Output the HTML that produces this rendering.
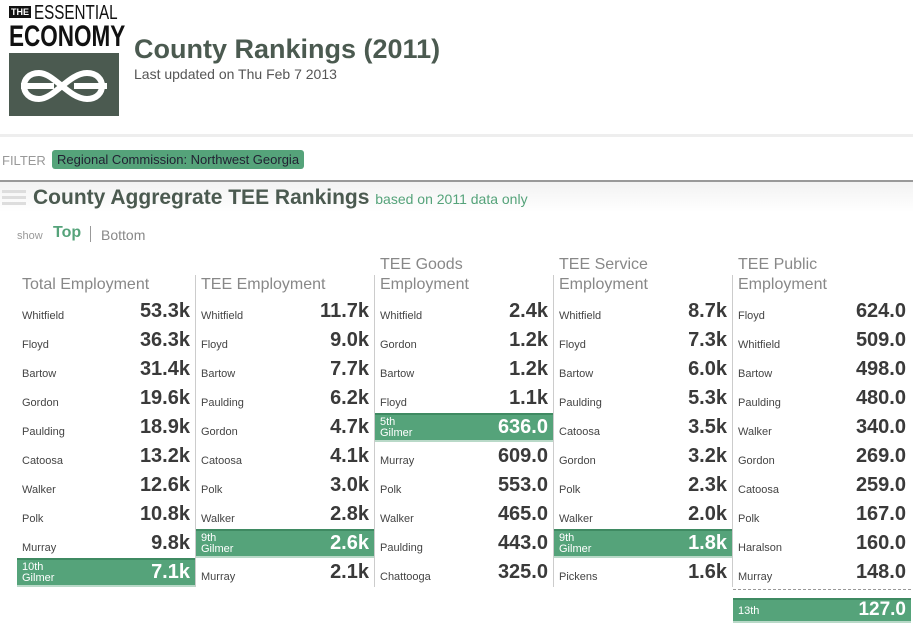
<!DOCTYPE html>
<html><head><meta charset="utf-8"><style>
body{margin:0;width:913px;height:634px;overflow:hidden;background:#fff;font-family:"Liberation Sans",sans-serif;position:relative}
.abs{position:absolute}
.col{position:absolute;top:255px;width:179px}
.hdr{position:absolute;left:5px;bottom:calc(100% - 40px);font-size:16px;color:#888;line-height:20px;width:170px}
.row{position:absolute;left:0;width:178px;height:29px}
.nm{position:absolute;left:5px;top:13px;font-size:11px;color:#444}
.val{position:absolute;right:5px;top:3px;font-size:20px;font-weight:bold;color:#3a3a3a}
.hl{background:#55a37a;border-top:2px solid #3f8a62;border-bottom:2px solid #b9d9c8;box-sizing:border-box}
.hl .nm{color:#fff;top:2px;line-height:11px;font-size:11px}
.hl .val{color:#fff;top:1px}
</style></head><body>
<div class="abs" style="left:9px;top:4px;width:110px;height:112px">
 <div class="abs" style="left:0;top:2px;background:#111;color:#fff;font-size:9px;font-weight:bold;padding:1px 2px">THE</div>
 <div class="abs" style="left:25px;top:-2px;font-size:20px;color:#111;transform:scaleX(0.76);transform-origin:left;white-space:nowrap">ESSENTIAL</div>
 <div class="abs" style="left:0;top:16px;font-size:30px;font-weight:bold;color:#111;transform:scaleX(0.75);transform-origin:left;white-space:nowrap">ECONOMY</div>
 <div class="abs" style="left:0;top:49px;width:110px;height:63px;background:#4b5a50">
  <svg width="110" height="63"><path d="M30 20 C10 20 10 46 30 46 C45 46 60 20 78 20 C98 20 98 46 78 46 C60 46 45 20 30 20 M12 33 H45 M65 33 H98" stroke="#fff" stroke-width="6" fill="none"/></svg>
 </div>
</div>
<div class="abs" style="left:134px;top:34px;font-size:27px;font-weight:bold;color:#4b5a50">County Rankings (2011)</div>
<div class="abs" style="left:134px;top:66px;font-size:14px;color:#555">Last updated on Thu Feb 7 2013</div>
<div class="abs" style="left:0;top:134px;width:913px;height:3px;background:#eee"></div>
<div class="abs" style="left:2px;top:153px;font-size:13px;color:#999">FILTER</div>
<div class="abs" style="left:52px;top:150px;padding:2px 5px;background:#55a37a;border-radius:3px;font-size:13px;color:#223">Regional Commission: Northwest Georgia</div>
<div class="abs" style="left:0;top:180px;width:913px;height:2px;background:#999"></div>
<div class="abs" style="left:0;top:182px;width:913px;height:30px;background:linear-gradient(#f2f2f2,#fff)"></div>
<div class="abs" style="left:2px;top:190px;width:24px;height:16px;background:repeating-linear-gradient(#ddd 0 3px,transparent 3px 6px)"></div>
<div class="abs" style="left:33px;top:186px;font-size:21px;font-weight:bold;color:#4b5a50">County Aggregrate TEE Rankings <span style="font-size:14px;font-weight:normal;color:#55a37a">based on 2011 data only</span></div>
<div class="abs" style="left:17px;top:230px;font-size:11px;color:#999">show</div>
<div class="abs" style="left:53px;top:224px;font-size:16px;font-weight:bold;color:#55a37a">Top</div>
<div class="abs" style="left:90px;top:226px;width:1px;height:16px;background:#999"></div>
<div class="abs" style="left:101px;top:227px;font-size:14px;color:#888">Bottom</div>
<div id="cols"></div>
<script>
const headers=["Total Employment","TEE Employment","TEE Goods<br>Employment","TEE Service<br>Employment","TEE Public<br>Employment"];
const names1=["Whitfield","Floyd","Bartow","Gordon","Paulding","Catoosa","Walker","Polk","Murray","Gilmer"];
const vals1=["53.3k","36.3k","31.4k","19.6k","18.9k","13.2k","12.6k","10.8k","9.8k","7.1k"];
const names2=["Whitfield","Floyd","Bartow","Paulding","Gordon","Catoosa","Polk","Walker","Gilmer","Murray"];
const vals2=["11.7k","9.0k","7.7k","6.2k","4.7k","4.1k","3.0k","2.8k","2.6k","2.1k"];
const names3=["Whitfield","Gordon","Bartow","Floyd","Gilmer","Murray","Polk","Walker","Paulding","Chattooga"];
const vals3=["2.4k","1.2k","1.2k","1.1k","636.0","609.0","553.0","465.0","443.0","325.0"];
const names4=["Whitfield","Floyd","Bartow","Paulding","Catoosa","Gordon","Polk","Walker","Gilmer","Pickens"];
const vals4=["8.7k","7.3k","6.0k","5.3k","3.5k","3.2k","2.3k","2.0k","1.8k","1.6k"];
const names5=["Floyd","Whitfield","Bartow","Paulding","Walker","Gordon","Catoosa","Polk","Haralson","Murray","Gilmer"];
const vals5=["624.0","509.0","498.0","480.0","340.0","269.0","259.0","167.0","160.0","148.0","127.0"];
const ranks5=[1,2,3,4,5,6,7,8,9,10,13];
const allN=[names1,names2,names3,names4,names5],allV=[vals1,vals2,vals3,vals4,vals5];
const ord=n=>n+(n%10==1&&n!=11?"st":n%10==2&&n!=12?"nd":n%10==3&&n!=13?"rd":"th");
const root=document.getElementById('cols');
allN.forEach((ns,c)=>{
 const col=document.createElement('div');col.className='col';col.style.left=(17+c*179)+'px';
 
 
 if(c>0){const d=document.createElement('div');d.className='abs';d.style.cssText='left:-1px;top:20px;width:1px;height:312px;background:#ccc';col.appendChild(d);}
 const h=document.createElement('div');h.className='hdr';h.innerHTML=headers[c];
 
 
 col.appendChild(h);
 ns.forEach((n,i)=>{
  const r=document.createElement('div');
  const rank=c==4?ranks5[i]:i+1;
  const hl=n==="Gilmer";
  const extra=i>=10;
  r.className='row'+(hl?' hl':'');
  r.style.top=(42+29*i+(extra?11:0))+'px';
  if(extra)r.style.height='25px';
  
  
  r.innerHTML='<div class="nm"'+(extra?' style="top:6px"':'')+'>'+(hl?ord(rank)+(extra?'':'<br>'+n):n)+'</div><div class="val"'+(extra?' style="top:-1px;font-size:19px"':'')+'>'+allV[c][i]+'</div>';
  col.appendChild(r);
 });
 if(c==4){const d=document.createElement('div');d.className='abs';d.style.cssText='left:0;top:334px;width:178px;border-top:1px dashed #999';col.appendChild(d);}
 root.appendChild(col);
});
</script>
</body></html>
